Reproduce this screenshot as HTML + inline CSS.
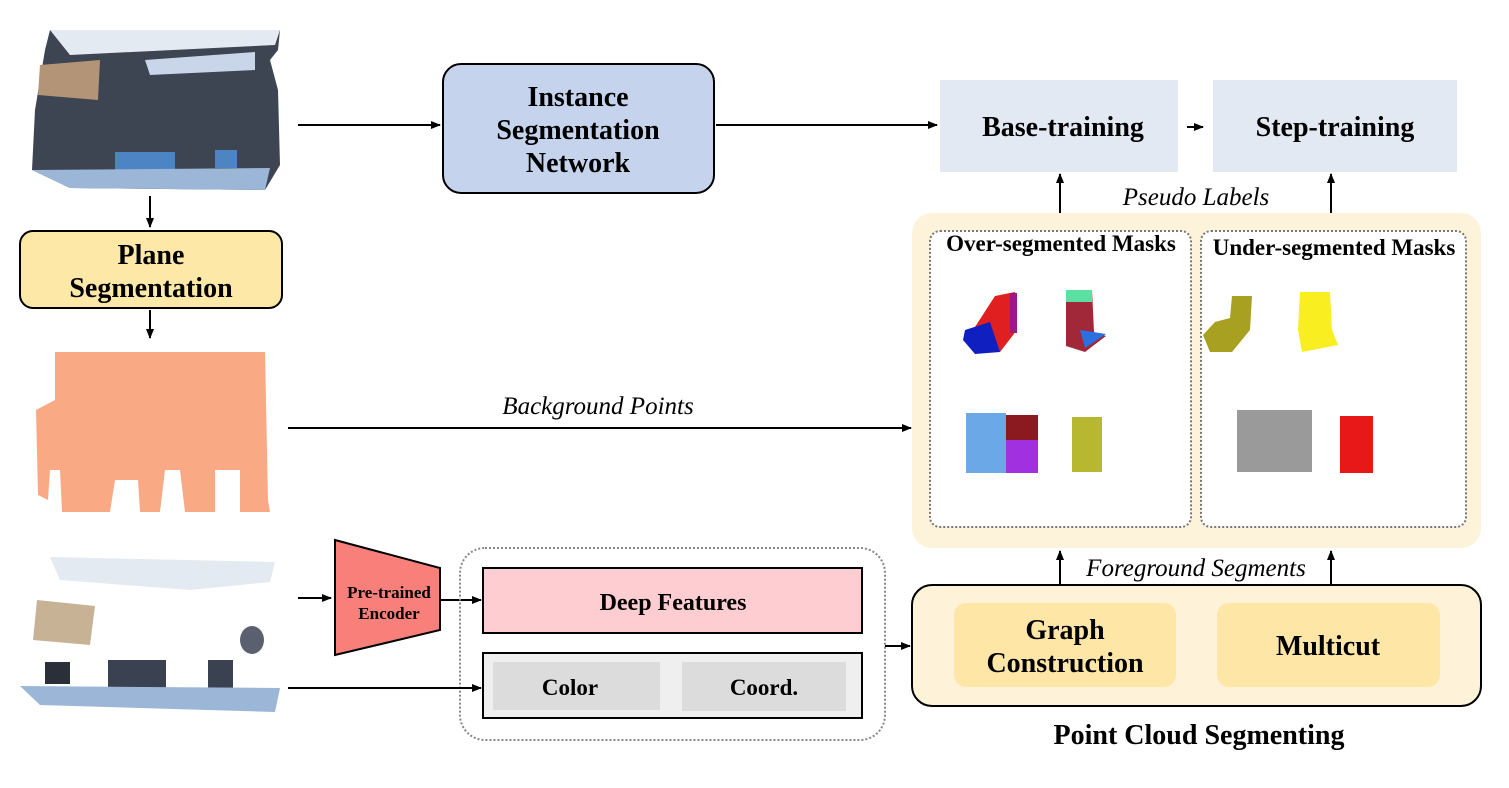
<!DOCTYPE html>
<html><head><meta charset="utf-8"><style>
body{margin:0;background:#fff}
svg{display:block}
text{font-family:"Liberation Serif","Times New Roman",serif}
.b{font-weight:bold}
.i{font-style:italic}
</style></head><body>
<svg width="1509" height="788" viewBox="0 0 1509 788" xmlns="http://www.w3.org/2000/svg" font-family="Liberation Serif, serif">
<defs>
<marker id="a" markerWidth="10" markerHeight="8" refX="9" refY="4" orient="auto" markerUnits="userSpaceOnUse"><path d="M0,0 L10,4 L0,8 z" fill="#000"/></marker>
</defs>
<polygon points="50,30 280,30 278,50 270,60 278,90 280,165 265,190 70,188 32,170 35,110 45,50" fill="#3d4452"/>
<polygon points="50,30 280,30 275,45 70,55" fill="#e4eaf1"/>
<polygon points="145,60 255,52 255,70 150,75" fill="#c9d6ea"/>
<polygon points="40,65 100,60 98,100 38,95" fill="#b39476"/>
<rect x="115" y="152" width="60" height="20" fill="#4d84c4"/>
<rect x="215" y="150" width="22" height="18" fill="#4d84c4"/>
<polygon points="32,170 270,168 265,190 70,188" fill="#9bb6d6"/>
<line x1="150" y1="196" x2="150" y2="227" stroke="#000" stroke-width="2" marker-end="url(#a)"/>
<rect x="20" y="231" width="262" height="77" rx="13" fill="#fde8a7" stroke="#000" stroke-width="2"/>
<text x="151" y="264" class="b" font-size="28" text-anchor="middle">Plane</text>
<text x="151" y="297" class="b" font-size="28" text-anchor="middle">Segmentation</text>
<line x1="150" y1="310" x2="150" y2="338" stroke="#000" stroke-width="2" marker-end="url(#a)"/>
<polygon points="55,352 265,352 268,500 270,512 240,512 240,470 215,470 215,512 185,512 180,470 165,470 160,512 140,512 138,480 115,480 110,512 62,512 60,470 50,470 48,500 38,495 36,410 55,400" fill="#f9aa85"/>
<polygon points="50,557 275,562 270,582 190,590 60,580" fill="#e4eaf1"/>
<polygon points="37,600 95,606 90,645 33,640" fill="#c7b296"/>
<rect x="45" y="662" width="25" height="22" fill="#2b3038"/>
<rect x="108" y="660" width="58" height="32" fill="#3a4150"/>
<rect x="208" y="660" width="25" height="30" fill="#3a4150"/>
<ellipse cx="252" cy="640" rx="12" ry="14" fill="#5a6070"/>
<polygon points="20,686 280,688 275,712 40,705" fill="#9bb6d6"/>
<line x1="298" y1="125" x2="440" y2="125" stroke="#000" stroke-width="2" marker-end="url(#a)"/>
<rect x="443" y="64" width="271" height="129" rx="18" fill="#c5d3ec" stroke="#000" stroke-width="2"/>
<text x="578" y="106" class="b" font-size="28" text-anchor="middle">Instance</text>
<text x="578" y="139" class="b" font-size="28" text-anchor="middle">Segmentation</text>
<text x="578" y="172" class="b" font-size="28" text-anchor="middle">Network</text>
<line x1="716" y1="125" x2="937" y2="125" stroke="#000" stroke-width="2" marker-end="url(#a)"/>
<rect x="940" y="80" width="238" height="92" fill="#e3e9f3"/>
<text x="1063" y="136" class="b" font-size="28" text-anchor="middle">Base-training</text>
<line x1="1187" y1="127" x2="1203" y2="127" stroke="#000" stroke-width="2" marker-end="url(#a)"/>
<rect x="1213" y="80" width="244" height="92" fill="#e3e9f3"/>
<text x="1335" y="136" class="b" font-size="28" text-anchor="middle">Step-training</text>
<text x="1196" y="205" class="i" font-size="25" text-anchor="middle">Pseudo Labels</text>
<line x1="1060" y1="220" x2="1060" y2="174" stroke="#000" stroke-width="2" marker-end="url(#a)"/>
<line x1="1331" y1="220" x2="1331" y2="174" stroke="#000" stroke-width="2" marker-end="url(#a)"/>
<rect x="912" y="213" width="569" height="335" rx="20" fill="#fdf3da"/>
<rect x="930" y="231" width="261" height="296" rx="10" fill="#fff" stroke="#777" stroke-width="2" stroke-dasharray="2,2"/>
<rect x="1201" y="231" width="265" height="296" rx="10" fill="#fff" stroke="#777" stroke-width="2" stroke-dasharray="2,2"/>
<text x="1061" y="251" class="b" font-size="23" text-anchor="middle">Over-segmented Masks</text>
<text x="1334" y="255" class="b" font-size="23" text-anchor="middle">Under-segmented Masks</text>
<polygon points="995,296 1015,292 1017,330 1000,352 975,350 973,330" fill="#e02020"/>
<polygon points="965,330 990,322 1000,352 975,354 963,340" fill="#1020c0"/>
<rect x="1010" y="293" width="7" height="40" fill="#9a1a8a"/>
<polygon points="1066,292 1092,290 1094,332 1106,336 1085,352 1066,346" fill="#a02838"/>
<rect x="1066" y="290" width="26" height="12" fill="#5ae0a0"/>
<polygon points="1080,330 1106,334 1085,348" fill="#2a70e0"/>
<rect x="966" y="413" width="40" height="60" fill="#6aa8e8"/>
<rect x="1006" y="415" width="32" height="40" fill="#8a1a20"/>
<rect x="1006" y="440" width="32" height="33" fill="#a030e0"/>
<rect x="1072" y="417" width="30" height="55" fill="#b8b830"/>
<polygon points="1232,296 1252,296 1250,330 1232,352 1210,352 1203,335 1215,322 1230,318" fill="#a8a020"/>
<polygon points="1300,292 1330,292 1332,330 1338,345 1302,352 1298,330" fill="#f8ee20"/>
<rect x="1237" y="410" width="75" height="62" fill="#9a9a9a"/>
<rect x="1340" y="416" width="33" height="57" fill="#e81818"/>
<text x="598" y="414" class="i" font-size="25" text-anchor="middle">Background Points</text>
<line x1="288" y1="428" x2="911" y2="428" stroke="#000" stroke-width="2" marker-end="url(#a)"/>
<line x1="298" y1="598" x2="331" y2="598" stroke="#000" stroke-width="2" marker-end="url(#a)"/>
<polygon points="335,540 440,568 440,630 335,655" fill="#f97f7a" stroke="#000" stroke-width="2"/>
<text x="389" y="598" class="b" font-size="17" text-anchor="middle">Pre-trained</text>
<text x="389" y="619" class="b" font-size="17" text-anchor="middle">Encoder</text>
<line x1="440" y1="600" x2="481" y2="600" stroke="#000" stroke-width="2" marker-end="url(#a)"/>
<rect x="460" y="548" width="425" height="192" rx="25" fill="none" stroke="#888" stroke-width="2" stroke-dasharray="2,2"/>
<rect x="483" y="568" width="379" height="65" fill="#fecdd2" stroke="#000" stroke-width="2"/>
<text x="673" y="610" class="b" font-size="24" text-anchor="middle">Deep Features</text>
<rect x="483" y="653" width="379" height="65" fill="#efefef" stroke="#000" stroke-width="2"/>
<rect x="493" y="662" width="167" height="48" fill="#dcdcdc"/>
<rect x="682" y="662" width="164" height="49" fill="#dcdcdc"/>
<text x="570" y="695" class="b" font-size="23" text-anchor="middle">Color</text>
<text x="764" y="695" class="b" font-size="23" text-anchor="middle">Coord.</text>
<line x1="288" y1="688" x2="481" y2="688" stroke="#000" stroke-width="2" marker-end="url(#a)"/>
<line x1="885" y1="646" x2="910" y2="646" stroke="#000" stroke-width="2" marker-end="url(#a)"/>
<text x="1196" y="576" class="i" font-size="25" text-anchor="middle">Foreground Segments</text>
<line x1="1060" y1="585" x2="1060" y2="551" stroke="#000" stroke-width="2" marker-end="url(#a)"/>
<line x1="1331" y1="585" x2="1331" y2="551" stroke="#000" stroke-width="2" marker-end="url(#a)"/>
<rect x="912" y="585" width="569" height="121" rx="20" fill="#fef3d8" stroke="#000" stroke-width="2"/>
<rect x="954" y="603" width="222" height="84" rx="12" fill="#fde6a6"/>
<rect x="1217" y="603" width="223" height="84" rx="12" fill="#fde6a6"/>
<text x="1065" y="639" class="b" font-size="28" text-anchor="middle">Graph</text>
<text x="1065" y="672" class="b" font-size="28" text-anchor="middle">Construction</text>
<text x="1328" y="655" class="b" font-size="28" text-anchor="middle">Multicut</text>
<text x="1199" y="744" class="b" font-size="28" text-anchor="middle">Point Cloud Segmenting</text>
</svg>
</body></html>
